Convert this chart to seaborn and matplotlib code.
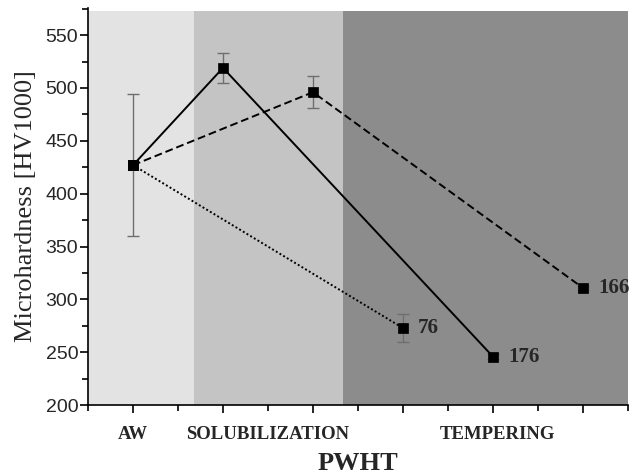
import numpy as np
import pandas as pd
import seaborn as sns
import matplotlib.pyplot as plt
from matplotlib.ticker import MultipleLocator

# data
stages = ["AW", "SOLUBILIZATION", "TEMPERING"]
stage_pos = [1, 2.5, 5.05]

s176_x = [1, 2, 5]
s176_y = [427, 519, 246]
s176_err = [67, 14.5, 2]

s166_x = [1, 3, 6]
s166_y = [427, 496, 311]
s166_err = [67, 15, 2]

s76_x = [1, 4]
s76_y = [427, 273]
s76_err = [67, 13]

end_labels = ["176", "166", "76"]

df = pd.concat([
    pd.DataFrame({"x": s176_x, "y": s176_y, "err": s176_err, "series": "176"}),
    pd.DataFrame({"x": s166_x, "y": s166_y, "err": s166_err, "series": "166"}),
    pd.DataFrame({"x": s76_x, "y": s76_y, "err": s76_err, "series": "76"}),
], ignore_index=True)

sns.set_style("ticks")
plt.rcParams["font.family"] = ["Liberation Serif", "DejaVu Serif"]

fig = plt.figure(figsize=(6.38, 4.75), dpi=100)
ax = fig.add_axes([0.138, 0.147, 0.846, 0.837])

ax.set_xlim(0.5, 6.5)
ax.set_ylim(200, 576)

# background regions
top = (573 - 200) / (576 - 200)
ax.axvspan(0.5, 1.68, ymax=top, color="#e3e3e3", lw=0, zorder=0)
ax.axvspan(1.68, 3.33, ymax=top, color="#c4c4c4", lw=0, zorder=0)
ax.axvspan(3.33, 6.5, ymax=top, color="#8c8c8c", lw=0, zorder=0)

# error bars (shared AW point drawn once)
eb = df.drop_duplicates(subset=["x", "y"])
ax.errorbar(eb["x"], eb["y"], yerr=eb["err"], fmt="none", ecolor="#6e6e6e",
            elinewidth=1, capsize=4, capthick=1, zorder=2)

sns.lineplot(data=df, x="x", y="y", style="series", color="black",
             dashes={"176": "", "166": (4, 2), "76": (1, 1.2)},
             markers={"176": "s", "166": "s", "76": "s"},
             markersize=6.5, markeredgecolor="black", markeredgewidth=0.5,
             linewidth=1.4, sort=False, estimator=None,
             legend=False, ax=ax, zorder=3)

# end labels
for lab in end_labels:
    d = df[df["series"] == lab].iloc[-1]
    ax.text(d["x"] + 0.17, d["y"], lab, ha="left", va="center",
            fontsize=15, fontweight="bold")

ax.set_xticks(range(1, 7))
ax.set_xticklabels([])
ax.xaxis.set_minor_locator(MultipleLocator(0.5))
ax.yaxis.set_major_locator(MultipleLocator(50))
ax.yaxis.set_minor_locator(MultipleLocator(25))
ax.tick_params(axis="both", which="major", direction="out", length=6, width=1.2, color="black")
ax.tick_params(axis="both", which="minor", direction="out", length=4, width=1.2, color="black")
ax.tick_params(axis="y", labelsize=14, pad=1)
for t in ax.get_yticklabels():
    t.set_fontfamily("Liberation Sans")

for p, s in zip(stage_pos, stages):
    ax.text(p, -0.075, s, transform=ax.get_xaxis_transform(), ha="center",
            va="center", fontsize=13.5, fontweight="bold")

ax.set_xlabel("PWHT", fontsize=19, fontweight="bold", labelpad=24)
ax.set_ylabel("Microhardness [HV1000]", fontsize=19, labelpad=6)

for sp in ["top", "right"]:
    ax.spines[sp].set_visible(False)
for sp in ["left", "bottom"]:
    ax.spines[sp].set_linewidth(1.2)
    ax.spines[sp].set_color("black")

fig.savefig("out.png", dpi=100)
